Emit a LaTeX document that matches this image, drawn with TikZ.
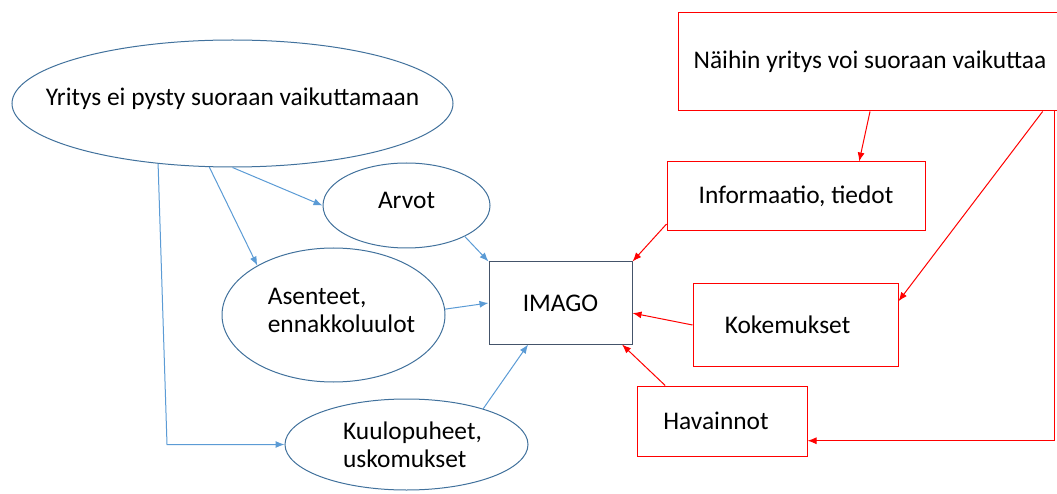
\documentclass[tikz,border=0pt]{standalone}
\usepackage{fontspec}
\setmainfont{Carlito}
\usetikzlibrary{shapes,arrows.meta}

\definecolor{ellblue}{HTML}{41719C}
\definecolor{arrblue}{HTML}{5B9BD5}
\definecolor{boxgray}{HTML}{44546A}

\begin{document}
\begin{tikzpicture}[x=1pt, y=-1pt,
    font=\fontsize{25.4}{28}\selectfont,
    oval/.style={draw=ellblue, line width=1pt, ellipse, inner sep=0pt},
    imagobox/.style={draw=boxgray, line width=1pt, rectangle, inner sep=0pt},
    redbox/.style={draw=red, line width=1pt, rectangle, inner sep=0pt},
    bluearrow/.style={draw=arrblue, line width=1pt, -{Latex[length=9pt,width=7pt]}},
    redarrow/.style={draw=red, line width=1pt, -{Latex[length=9pt,width=7pt]}}]

\useasboundingbox (0,0) rectangle (1057,494);

% Things the company cannot steer
\node[oval, minimum width=441pt, minimum height=127pt,
    label={[yshift=5pt]center:{Yritys ei pysty suoraan vaikuttamaan}}] (yritys) at (232.5,103.5) {};
\node[oval, minimum width=167pt, minimum height=85pt,
    label={[yshift=5pt]center:{Arvot}}] (arvot) at (406.5,205.5) {};
\node[oval, minimum width=223pt, minimum height=134pt,
    label={[align=left, xshift=8pt, yshift=5pt]center:{Asenteet,\\ennakkoluulot}}] (asenteet) at (333.5,315) {};
\node[oval, minimum width=243pt, minimum height=91pt,
    label={[align=left, xshift=6pt]center:{Kuulopuheet,\\uskomukset}}] (kuulo) at (406.5,444.5) {};

% Image in the middle
\node[imagobox, minimum width=143pt, minimum height=82pt] (imago) at (560.5,303) {IMAGO};

% Things the company can steer
\node[redbox, minimum width=384pt, minimum height=98pt] (naihin) at (870,62) {Näihin yritys voi suoraan vaikuttaa};
\node[redbox, minimum width=258pt, minimum height=69pt] (info) at (796,196.5) {Informaatio, tiedot};
\node[redbox, minimum width=205pt, minimum height=82pt] (kok) at (795.5,325) {\hspace*{-16pt}Kokemukset};
\node[redbox, minimum width=170pt, minimum height=70pt] (hav) at (722,421) {\hspace*{-12pt}Havainnot};

% Blue connectors
\coordinate (bend) at (167,444.5);
\draw[bluearrow] (yritys.-141) -- (bend) -- (kuulo.west);
\draw[bluearrow] (yritys.-110.7) -- (asenteet.147.5);
\draw[bluearrow] (yritys.-90) -- (arvot.west);
\draw[bluearrow] (arvot.-28) -- (imago.north west);
\draw[bluearrow] (asenteet.3) -- (imago.west);
\draw[bluearrow] (kuulo.25) -- (imago.-128);

% Red connectors
\draw[redarrow] (naihin.south) -- (info.29.5);
\draw[redarrow] (naihin.-16.9) -- (kok.13.7);
\draw[redarrow] (naihin.-15.8) |- (hav.-13.9);
\draw[redarrow] (info.-168) -- (imago.north east);
\draw[redarrow] (kok.west) -- (imago.-8);
\draw[redarrow] (hav.148.4) -- (imago.-34);
\end{tikzpicture}
\end{document}
